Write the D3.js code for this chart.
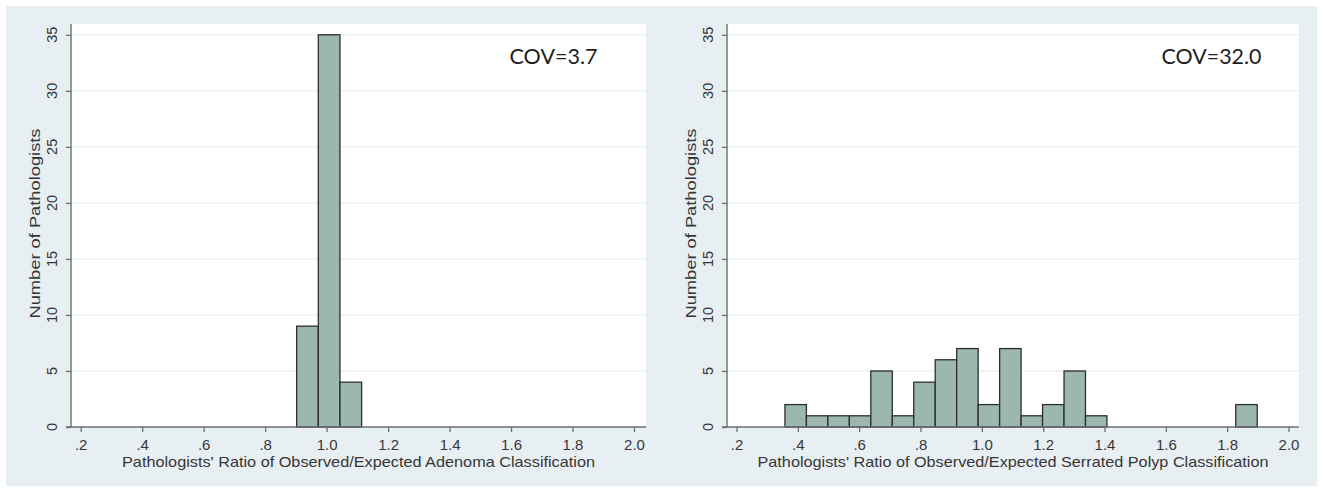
<!DOCTYPE html>
<html>
<head>
<meta charset="utf-8">
<script src="https://cdn.jsdelivr.net/npm/d3@7"></script>
<style>
  html, body { margin: 0; padding: 0; background: #ffffff; }
  svg { display: block; }
</style>
</head>
<body>
<svg id="chart" width="1323" height="489"></svg>
<script>
// ---------- data ----------
const yTicks = [0, 5, 10, 15, 20, 25, 30, 35];
const xTickValues = [0.2, 0.4, 0.6, 0.8, 1.0, 1.2, 1.4, 1.6, 1.8, 2.0];
const xTickLabels = [".2", ".4", ".6", ".8", "1.0", "1.2", "1.4", "1.6", "1.8", "2.0"];

const adenomaBinStarts = [0.9025, 0.9730, 1.0435];
const adenomaCounts = [9, 35, 4];
const adenomaBinWidth = 0.0704;

const serratedBinStarts = [0.358, 0.428, 0.498, 0.568, 0.638, 0.708, 0.778, 0.848, 0.918, 0.988, 1.058,
                           1.128, 1.198, 1.268, 1.338, 1.408, 1.478, 1.548, 1.618, 1.688, 1.758, 1.828];
const serratedCounts = [2, 1, 1, 1, 5, 1, 4, 6, 7, 2, 7, 1, 2, 5, 1, 0, 0, 0, 0, 0, 0, 2];
const serratedBinWidth = 0.07;

const panelTitles = ["Pathologists' Ratio of Observed/Expected Adenoma Classification",
                     "Pathologists' Ratio of Observed/Expected Serrated Polyp Classification"];
const covLabels = ["COV=3.7", "COV=32.0"];
const yTitle = "Number of Pathologists";

// ---------- drawing ----------
const svg = d3.select("#chart");
svg.append("rect").attr("x", 6).attr("y", 6).attr("width", 1311).attr("height", 480).attr("fill", "#e8eff2");

const AXIS_COLOR = "#6e6e6e";
const TEXT_COLOR = "#363636";
const FONT = "'Liberation Sans', Arial, sans-serif";

const panels = [
  { left: 71, right: 646, x0: 80.7, x1: 634, starts: adenomaBinStarts, counts: adenomaCounts, bw: adenomaBinWidth,
    title: panelTitles[0], titleLen: 473, cov: covLabels[0], covX: 509.5, covLen: 88 },
  { left: 727, right: 1299, x0: 736.5, x1: 1288.5, starts: serratedBinStarts, counts: serratedCounts, bw: serratedBinWidth,
    title: panelTitles[1], titleLen: 511, cov: covLabels[1], covX: 1161.5, covLen: 100 }
];

const plotTop = 24, plotBottom = 427;
const y = d3.scaleLinear().domain([0, 35]).range([427, 34.8]);

panels.forEach(p => {
  const g = svg.append("g");
  const x = d3.scaleLinear().domain([0.2, 2.0]).range([p.x0, p.x1]);

  // plot region
  g.append("rect").attr("x", p.left).attr("y", plotTop).attr("width", p.right - p.left).attr("height", plotBottom - plotTop)
    .attr("fill", "#ffffff");

  // gridlines
  g.selectAll("line.grid").data(yTicks.filter(d => d > 0)).enter().append("line")
    .attr("x1", p.left).attr("x2", p.right)
    .attr("y1", d => y(d)).attr("y2", d => y(d))
    .attr("stroke", "#eaf2f2").attr("stroke-width", 1.5);

  // bars
  const bins = p.starts.map((s, i) => ({ s: s, c: p.counts[i] })).filter(d => d.c > 0);
  g.selectAll("rect.bar").data(bins).enter().append("rect")
    .attr("x", d => x(d.s)).attr("width", d => x(d.s + p.bw) - x(d.s))
    .attr("y", d => y(d.c)).attr("height", d => y(0) - y(d.c))
    .attr("fill", "#9bb7ae").attr("stroke", "#2e2e2e").attr("stroke-width", 1.3);

  // y axis
  const yAxis = d3.axisLeft(y).tickValues(yTicks).tickSize(5).tickFormat("");
  const ya = g.append("g").attr("transform", `translate(${p.left},0)`).call(yAxis);
  ya.select(".domain").attr("d", `M0,${plotTop}V${plotBottom}`).attr("stroke", AXIS_COLOR).attr("stroke-width", 1.4);
  ya.selectAll(".tick line").attr("stroke", AXIS_COLOR).attr("stroke-width", 1.3);

  // y tick labels (rotated)
  g.selectAll("text.ytl").data(yTicks).enter().append("text")
    .attr("transform", d => `translate(${p.left - 14},${y(d)}) rotate(-90)`)
    .attr("text-anchor", "middle")
    .attr("font-family", FONT).attr("font-size", 14.5).attr("fill", TEXT_COLOR)
    .text(d => d);

  // x axis
  const xAxis = d3.axisBottom(x).tickValues(xTickValues).tickSize(5)
    .tickFormat((d, i) => xTickLabels[i]);
  const xa = g.append("g").attr("transform", `translate(0,${plotBottom})`).call(xAxis);
  xa.select(".domain").attr("d", `M${p.left - 5},0H${p.right}`).attr("stroke", AXIS_COLOR).attr("stroke-width", 1.4);
  xa.selectAll(".tick line").attr("stroke", AXIS_COLOR).attr("stroke-width", 1.3);
  xa.selectAll(".tick text").attr("font-family", FONT).attr("font-size", 15).attr("fill", TEXT_COLOR)
    .attr("dy", null).attr("y", 23);

  // x title
  g.append("text").attr("x", (p.left + p.right) / 2).attr("y", 467)
    .attr("text-anchor", "middle").attr("font-family", FONT).attr("font-size", 14.5).attr("fill", TEXT_COLOR)
    .attr("textLength", p.titleLen).attr("lengthAdjust", "spacingAndGlyphs")
    .text(p.title);

  // y title
  g.append("text").attr("transform", `translate(${p.left - 31},${(plotTop + plotBottom) / 2 - 2}) rotate(-90)`)
    .attr("text-anchor", "middle").attr("font-family", FONT).attr("font-size", 14.5).attr("fill", TEXT_COLOR)
    .attr("textLength", 190).attr("lengthAdjust", "spacingAndGlyphs")
    .text(yTitle);

  // COV annotation
  g.append("text").attr("x", p.covX).attr("y", 63.5)
    .attr("font-family", "Lato, 'Open Sans', sans-serif").attr("font-size", 22).attr("fill", "#1e1e1e")
    .attr("textLength", p.covLen).attr("lengthAdjust", "spacingAndGlyphs")
    .text(p.cov);
});
</script>
</body>
</html>
